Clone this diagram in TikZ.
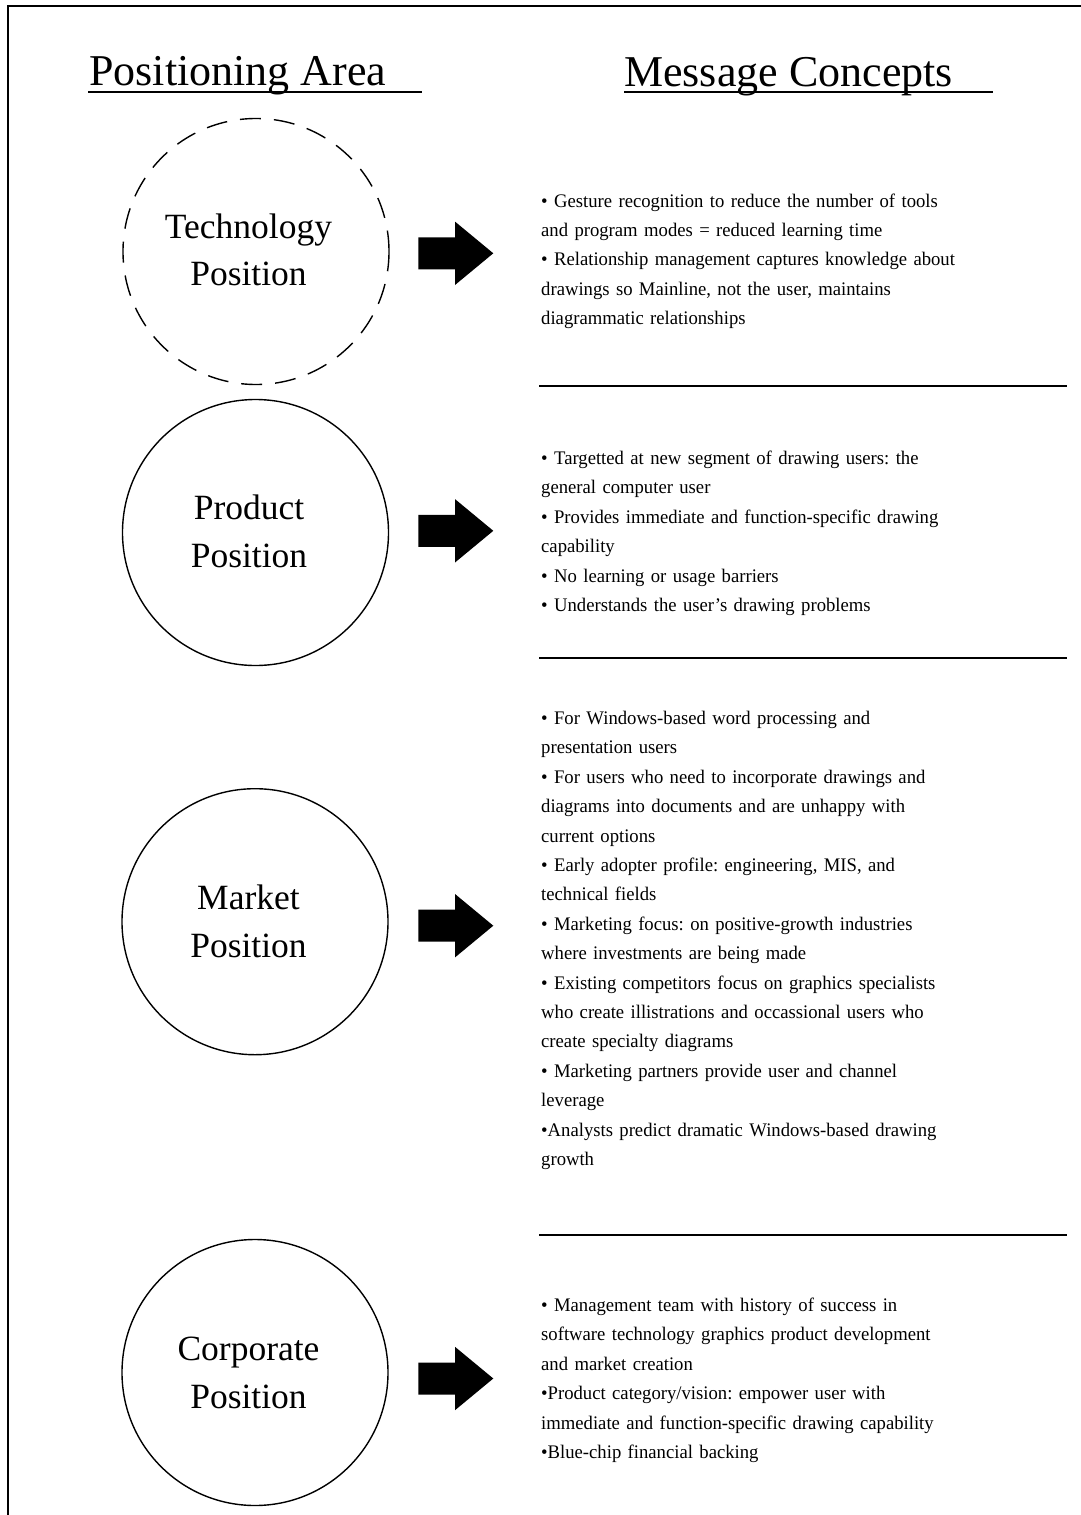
\documentclass[tikz,border=0pt]{standalone}
\usepackage{fontspec}
\setmainfont{Liberation Serif}
\newfontfamily\msgfont[FakeStretch=0.972]{Liberation Serif}
\begin{document}
\frenchspacing
\begin{tikzpicture}[x=1pt,y=-1pt,
  frameline/.style={line width=2pt},
  sepline/.style={line width=2pt},
  uline/.style={line width=2.7pt},
  titletext/.style={anchor=base west,inner sep=0pt,font=\fontsize{44}{50}\selectfont},
  posnode/.style={circle,draw,line width=1.4pt,minimum size=266pt,inner sep=0pt},
  dashposnode/.style={posnode,dash pattern=on 21pt off 13pt},
  poslabel/.style={anchor=base,inner sep=0pt,align=center,text width=240pt,font=\fontsize{35.5}{47.5}\selectfont},
  msgtext/.style={anchor=base west,inner sep=0pt,align=left,text width=500pt,font=\msgfont\fontsize{19.2}{29.4}\selectfont},
  blockarrow/.pic={\fill (0,-16)--(36.7,-16)--(36.7,-31.7)--(75,0)--(36.7,31.7)--(36.7,16)--(0,16)--cycle;}
]
\useasboundingbox (0,0) rectangle (1081,1515);
\fill[white] (0,0) rectangle (1081,1515);
\draw[frameline] (7.5,1515) -- (7.5,5.5) -- (1081,5.5);

% titles
\node[titletext] (tpos) at (89,85.5) {Positioning Area};
\draw[uline] (88,92) -- (422,92);
\node[titletext] (tmsg) at (624,86) {Message Concepts};
\draw[uline] (624,92) -- (993,92);

% positioning circles
\node[dashposnode] (ctech) at (256,251.5) {};
\node[posnode] (cprod) at (255.5,532.5) {};
\node[posnode] (cmark) at (255,921.7) {};
\node[posnode] (ccorp) at (255,1372.5) {};

\node[poslabel] (ltech) at (248.5,238.3) {Technology\\Position};
\node[poslabel] (lprod) at (249,519.5) {Product\\Position};
\node[poslabel] (lmark) at (248.5,909.5) {Market\\Position};
\node[poslabel] (lcorp) at (248.5,1360.5) {Corporate\\Position};

% block arrows
\pic (atech) at (418.3,253.3) {blockarrow};
\pic (aprod) at (418.3,530.8) {blockarrow};
\pic (amark) at (418.3,925.7) {blockarrow};
\pic (acorp) at (418.3,1378.5) {blockarrow};

% separators
\draw[sepline] (539,385.7) -- (1067,385.7);
\draw[sepline] (539,657.7) -- (1067,657.7);
\draw[sepline] (539,1235) -- (1067,1235);

% message concepts
\node[msgtext] (mtech) at (541,207) {%
• Gesture recognition to reduce the number of tools\\
and program modes = reduced learning time\\
• Relationship management captures knowledge about\\
drawings so Mainline, not the user, maintains\\
diagrammatic relationships};

\node[msgtext] (mprod) at (541,464.5) {%
• Targetted at new segment of drawing users: the\\
general computer user\\
• Provides immediate and function-specific drawing\\
capability\\
• No learning or usage barriers\\
• Understands the user’s drawing problems};

\node[msgtext] (mmark) at (541,724.5) {%
• For Windows-based word processing and\\
presentation users\\
• For users who need to incorporate drawings and\\
diagrams into documents and are unhappy with\\
current options\\
• Early adopter profile: engineering, MIS, and\\
technical fields\\
• Marketing focus: on positive-growth industries\\
where investments are being made\\
• Existing competitors focus on graphics specialists\\
who create illistrations and occassional users who\\
create specialty diagrams\\
• Marketing partners provide user and channel\\
leverage\\
•Analysts predict dramatic Windows-based drawing\\
growth};

\node[msgtext] (mcorp) at (541,1311.5) {%
• Management team with history of success in\\
software technology graphics product development\\
and market creation\\
•Product category/vision: empower user with\\
immediate and function-specific drawing capability\\
•Blue-chip financial backing};
\end{tikzpicture}
\end{document}
